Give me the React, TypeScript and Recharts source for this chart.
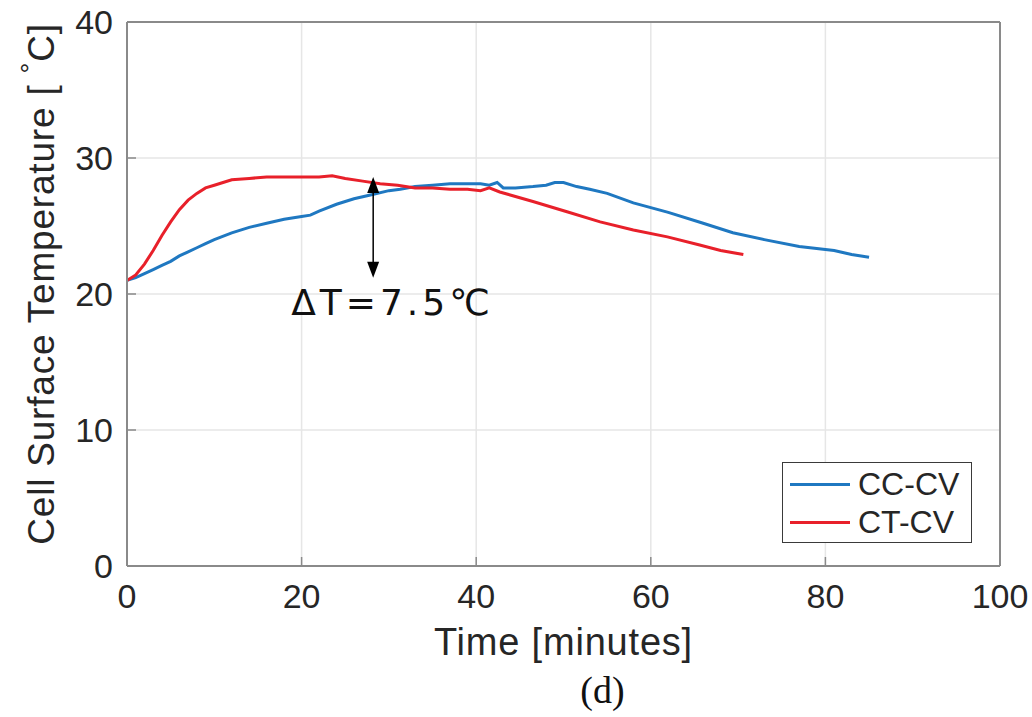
import React from "react";
import {
  LineChart,
  Line,
  XAxis,
  YAxis,
  CartesianGrid,
  ReferenceLine,
  ReferenceDot,
} from "recharts";

const xTicks = [0, 20, 40, 60, 80, 100];
const yTicks = [0, 10, 20, 30, 40];

// CC-CV, time in minutes / temperature in °C
const ccTime = [0, 1, 2, 3, 4, 5, 6, 7, 8, 9, 10, 12, 14, 16, 18, 20, 21, 22, 24, 26, 28, 30, 31.3, 33, 35, 37, 39, 40.5, 41.5, 42.4, 43.1, 44.5, 46.5, 48, 49, 50, 51.5, 53, 55, 58, 62, 66, 69.4, 73, 77, 81, 83, 85];
const ccTemp = [21.0, 21.2, 21.5, 21.8, 22.1, 22.4, 22.8, 23.1, 23.4, 23.7, 24.0, 24.5, 24.9, 25.2, 25.5, 25.7, 25.8, 26.1, 26.6, 27.0, 27.3, 27.6, 27.7, 27.9, 28.0, 28.1, 28.1, 28.1, 28.0, 28.2, 27.8, 27.8, 27.9, 28.0, 28.2, 28.2, 27.9, 27.7, 27.4, 26.7, 26.0, 25.2, 24.5, 24.0, 23.5, 23.2, 22.9, 22.7];

// CT-CV
const ctTime = [0, 1, 2, 3, 4, 5, 6, 7, 8, 9, 10, 11, 12, 14, 16, 18, 20, 22, 23.5, 25, 27, 29, 31, 33, 35, 37, 39, 40.5, 41.5, 42.7, 46.5, 50.4, 54.2, 58, 61.9, 65.6, 68, 70.6];
const ctTemp = [21.0, 21.4, 22.2, 23.2, 24.3, 25.3, 26.2, 26.9, 27.4, 27.8, 28.0, 28.2, 28.4, 28.5, 28.6, 28.6, 28.6, 28.6, 28.7, 28.5, 28.3, 28.1, 28.0, 27.8, 27.8, 27.7, 27.7, 27.6, 27.8, 27.5, 26.8, 26.05, 25.3, 24.7, 24.2, 23.6, 23.2, 22.9];

const ccData = ccTime.map((t, i) => ({ t, v: ccTemp[i] }));
const ctData = ctTime.map((t, i) => ({ t, v: ctTemp[i] }));

const BLUE = "#1f78c1";
const RED = "#e8202a";
const TEXT = "#262626";
const SANS = "'Liberation Sans', Arial, sans-serif";

function XTick({ x, y, payload }: any) {
  return (
    <g>
      <line x1={x} y1={y} x2={x} y2={y - 9} stroke="#8a8a8a" strokeWidth={1.5} />
      <text x={x} y={y + 42} textAnchor="middle" fontSize={34} fontFamily={SANS} fill={TEXT}>
        {payload.value}
      </text>
    </g>
  );
}

function YTick({ x, y, payload }: any) {
  return (
    <g>
      <line x1={x} y1={y} x2={x + 9} y2={y} stroke="#8a8a8a" strokeWidth={1.5} />
      <text x={x - 14} y={y + 12} textAnchor="end" fontSize={34} fontFamily={SANS} fill={TEXT}>
        {payload.value}
      </text>
    </g>
  );
}

function XLabel({ viewBox }: any) {
  const cx = viewBox.x + viewBox.width / 2;
  return (
    <g>
      <text
        x={cx}
        y={viewBox.y + 89}
        textAnchor="middle"
        fontSize={38}
        letterSpacing={0.8}
        fontFamily={SANS}
        fill={TEXT}
      >
        Time [minutes]
      </text>
      <text
        x={cx + 39}
        y={viewBox.y + 137}
        textAnchor="middle"
        fontSize={38}
        fontFamily="'Liberation Serif', 'Times New Roman', serif"
        fill="#111"
      >
        (d)
      </text>
    </g>
  );
}

function YLabel({ viewBox }: any) {
  const cx = viewBox.x - 26;
  const cy = viewBox.y + viewBox.height / 2 - 10;
  return (
    <text
      x={cx}
      y={cy}
      transform={`rotate(-90 ${cx} ${cy})`}
      textAnchor="middle"
      dominantBaseline="central"
      fontSize={37}
      letterSpacing={0.8}
      fontFamily={SANS}
      fill={TEXT}
    >
      Cell Surface Temperature [ <tspan fontSize={27} dy={-10}>°</tspan>
      <tspan dy={10}>C]</tspan>
    </text>
  );
}

function LegendBox() {
  const row = (color: string, label: string) => (
    <div style={{ display: "flex", alignItems: "center", height: 38 }}>
      <div style={{ width: 60, height: 3, background: color, marginLeft: 7, marginRight: 8 }} />
      <span style={{ fontSize: 32, fontFamily: SANS, color: TEXT, lineHeight: "38px" }}>{label}</span>
    </div>
  );
  return (
    <div
      style={{
        position: "absolute",
        left: 782,
        top: 462,
        width: 188,
        height: 77,
        border: "1.5px solid #3a3a3a",
        background: "#fff",
        boxSizing: "content-box",
        paddingTop: 2,
      }}
    >
      {row(BLUE, "CC-CV")}
      {row(RED, "CT-CV")}
    </div>
  );
}

const arrowHead = (up: boolean) => (props: any) => {
  const { cx, cy } = props;
  const d = up ? 16 : -16;
  return (
    <path
      d={`M ${cx} ${cy} L ${cx - 6} ${cy + d} L ${cx + 6} ${cy + d} Z`}
      fill="#000"
    />
  );
};

const deltaLabel = (props: any) => (
  <text
    x={props.cx}
    y={props.cy}
    textAnchor="middle"
    dominantBaseline="central"
    fontSize={36}
    letterSpacing={4}
    fontFamily="'DejaVu Sans', sans-serif"
    fill="#111"
  >
    ΔT=7.5℃
  </text>
);

export default function App() {
  return (
    <div style={{ position: "fixed", left: 0, top: 0, width: 1032, height: 717, background: "#fff" }}>
      <LineChart
        width={1032}
        height={717}
        margin={{ top: 22, right: 32, bottom: 101, left: 67 }}
      >
        <CartesianGrid stroke="#e6e6e6" strokeWidth={1.5} />
        <XAxis
          type="number"
          dataKey="t"
          domain={[0, 100]}
          ticks={xTicks}
          allowDataOverflow
          height={50}
          tickSize={0}
          tickMargin={0}
          tickLine={false}
          axisLine={{ stroke: "#8a8a8a", strokeWidth: 2 }}
          tick={<XTick />}
          label={<XLabel />}
        />
        <YAxis
          type="number"
          domain={[0, 40]}
          ticks={yTicks}
          allowDataOverflow
          width={60}
          tickSize={0}
          tickMargin={0}
          tickLine={false}
          axisLine={{ stroke: "#8a8a8a", strokeWidth: 2 }}
          tick={<YTick />}
          label={<YLabel />}
        />
        <ReferenceLine y={40} stroke="#8a8a8a" strokeWidth={2} />
        <ReferenceLine x={100} stroke="#8a8a8a" strokeWidth={2} />
        <Line
          data={ccData}
          dataKey="v"
          name="CC-CV"
          stroke={BLUE}
          strokeWidth={3}
          dot={false}
          type="linear"
          isAnimationActive={false}
        />
        <Line
          data={ctData}
          dataKey="v"
          name="CT-CV"
          stroke={RED}
          strokeWidth={3}
          dot={false}
          type="linear"
          isAnimationActive={false}
        />
        <ReferenceLine
          segment={[
            { x: 28.2, y: 28.4 },
            { x: 28.2, y: 21.4 },
          ]}
          stroke="#000"
          strokeWidth={1.5}
        />
        <ReferenceDot x={28.2} y={28.6} r={0} shape={arrowHead(true)} />
        <ReferenceDot x={28.2} y={21.2} r={0} shape={arrowHead(false)} />
        <ReferenceDot x={30.4} y={19.4} r={0} shape={deltaLabel} />
      </LineChart>
      <LegendBox />
    </div>
  );
}
